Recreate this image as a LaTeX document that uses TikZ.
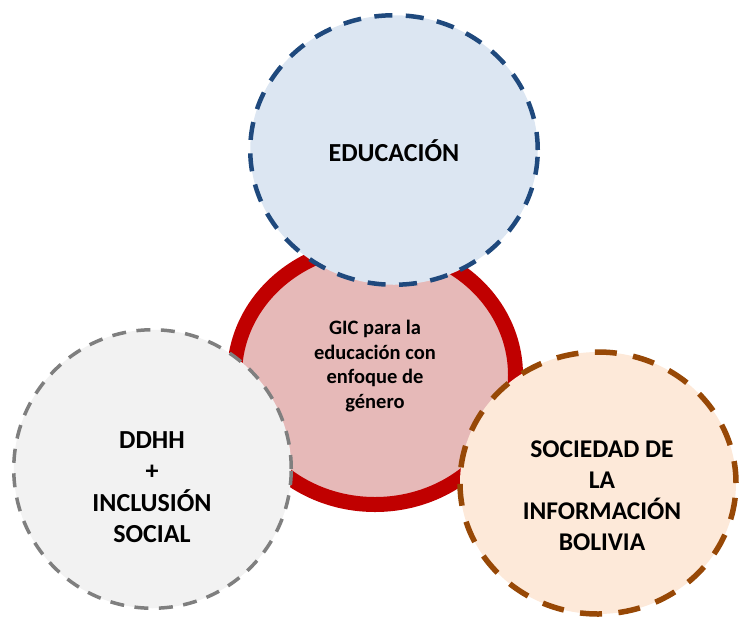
\documentclass[tikz,border=0pt]{standalone}
\usepackage{fontspec}
\setmainfont{Carlito}
\usetikzlibrary{shapes.geometric}
\definecolor{blueline}{HTML}{1F497D}
\definecolor{bluefill}{HTML}{DCE6F2}
\definecolor{redline}{HTML}{C00000}
\definecolor{redfill}{HTML}{E6B9B8}
\definecolor{grayline}{HTML}{7F7F7F}
\definecolor{grayfill}{HTML}{F2F2F2}
\definecolor{orangeline}{HTML}{974806}
\definecolor{orangefill}{HTML}{FDE9D9}
\tikzset{
  blob/.style={ellipse, inner sep=0pt, outer sep=0pt},
  lbl/.style={align=center, font=\bfseries, text=black, inner sep=0pt},
}
\begin{document}
\begin{tikzpicture}[x=1pt,y=-1pt]
\useasboundingbox (0,0) rectangle (739,619);
% central circle
\node[blob, draw=redline, fill=redfill, line width=15pt,
      minimum width=281pt, minimum height=259pt] (gic) at (375,375) {};
% top
\node[blob, draw=blueline, fill=bluefill, line width=4.5pt,
      dash pattern=on 18pt off 13.5pt,
      minimum width=287.5pt, minimum height=269.5pt] (edu) at (394,150) {};
% left
\node[blob, draw=grayline, fill=grayfill, line width=3.5pt,
      dash pattern=on 14pt off 10.5pt,
      minimum width=277.5pt, minimum height=278.5pt] (ddhh) at (152.5,469) {};
% right
\node[blob, draw=orangeline, fill=orangefill, line width=5.5pt,
      dash pattern=on 22pt off 16.5pt,
      minimum width=276pt, minimum height=262pt] (soc) at (598,483) {};
% labels
\node[lbl, font=\fontsize{26pt}{31pt}\selectfont\bfseries] (tedu) at (394,151) {EDUCACIÓN};
\node[lbl, font=\fontsize{20.5pt}{24.5pt}\selectfont\bfseries] (tgic) at (375,366)
  {GIC para la\\educación con\\enfoque de\\género};
\node[lbl, font=\fontsize{26pt}{31.5pt}\selectfont\bfseries] (tddhh) at (152,487)
  {DDHH\\+\\INCLUSIÓN\\SOCIAL};
\node[lbl, font=\fontsize{25.5pt}{31pt}\selectfont\bfseries] (tsoc) at (602,496)
  {SOCIEDAD DE\\LA\\INFORMACIÓN\\BOLIVIA};
\end{tikzpicture}
\end{document}
